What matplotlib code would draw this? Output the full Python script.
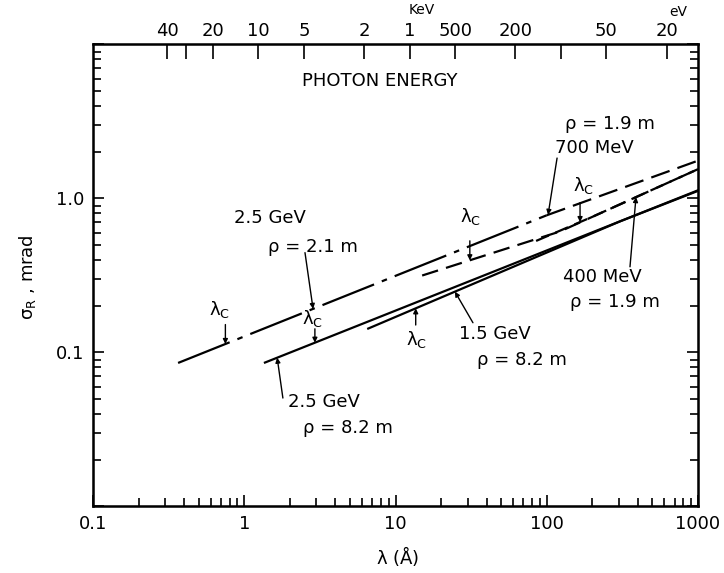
import numpy as np
import matplotlib.pyplot as plt

plt.rcParams['font.family'] = ['DejaVu Sans']
plt.rcParams['lines.scale_dashes'] = False

# curves: wavelength (A) vs. opening angle sigma_R (mrad)
lam_25gev_21m = [0.365, 100]
sig_25gev_21m = [0.0855, 0.778]
lam_25gev_21m_tail = [100, 1000]
sig_25gev_21m_tail = [0.778, 1.76]

lam_700mev = [15, 122, 1000]
sig_700mev = [0.316, 0.61, 1.55]

lam_400mev = [85, 200, 1000]
sig_400mev = [0.53, 0.76, 1.55]

lam_25gev_82m = [1.37, 1000]
sig_25gev_82m = [0.086, 1.13]

lam_15gev_82m = [6.6, 305, 1000]
sig_15gev_82m = [0.143, 0.71, 1.12]

# critical wavelengths marked on each curve
lamc_25gev_21m = 0.75
lamc_25gev_82m = 2.93
lamc_15gev_82m = 13.6
lamc_700mev = 31
lamc_400mev = 166

# photon energy scale on top (keV)
energy_kev = [40, 30, 20, 10, 5, 2, 1, 0.5, 0.2, 0.1, 0.05, 0.02]
energy_labels = ['40', '', '20', '10', '5', '2', '1', '500', '200', '', '50', '20']

x_ticks = [0.1, 1, 10, 100, 1000]
x_ticklabels = ['0.1', '1', '10', '100', '1000']
y_ticks = [0.01, 0.1, 1, 10]
y_ticklabels = ['', '0.1', '1.0', '']


def on_curve(lam, lams, sigs):
    return 10 ** np.interp(np.log10(lam), np.log10(lams), np.log10(sigs))


fig = plt.figure(figsize=(7.24, 5.73), dpi=100)
ax = fig.add_axes([0.1285, 0.1161, 0.8356, 0.8063])
ax.set_xscale('log')
ax.set_yscale('log')
ax.set_xlim(0.1, 1000)
ax.set_ylim(0.01, 10)

lw = 1.6
ax.plot(lam_25gev_21m, sig_25gev_21m, color='black', lw=lw, dashes=(40, 6, 4, 6))
ax.plot(lam_25gev_21m_tail, sig_25gev_21m_tail, color='black', lw=lw, dashes=(14, 6))
ax.plot(lam_700mev, sig_700mev, color='black', lw=lw, dashes=(12, 6))
ax.plot(lam_400mev, sig_400mev, color='black', lw=lw, dashes=(10, 5))
ax.plot(lam_25gev_82m, sig_25gev_82m, color='black', lw=lw)
ax.plot(lam_15gev_82m, sig_15gev_82m, color='black', lw=lw)

arrow = dict(arrowstyle='-|>', color='black', lw=1.0, mutation_scale=7, shrinkA=0, shrinkB=0)

# lambda_c markers
lc_text = r'$\mathregular{\lambda_C}$'
marks = [
    (lamc_25gev_21m, lam_25gev_21m, sig_25gev_21m, 14, (0.69, 0.191)),
    (lamc_25gev_82m, lam_25gev_82m, sig_25gev_82m, 10, (2.81, 0.165)),
    (lamc_15gev_82m, lam_15gev_82m, sig_15gev_82m, -12, (13.7, 0.122)),
    (lamc_700mev, lam_700mev, sig_700mev, 14, (31.1, 0.762)),
    (lamc_400mev, lam_400mev, sig_400mev, 14, (174, 1.21)),
]
for lc, lams, sigs, off, txt in marks:
    s = on_curve(lc, lams, sigs)
    ax.annotate('', xy=(lc, s), xytext=(0, off), textcoords='offset points',
                arrowprops=arrow)
    ax.text(txt[0], txt[1], lc_text, fontsize=13, ha='center', va='center')

# curve labels with leader arrows
ax.annotate('', xy=(2.85, on_curve(2.85, lam_25gev_21m, sig_25gev_21m)),
            xytext=(2.52, 0.445), arrowprops=arrow)
ax.annotate('', xy=(1.65, on_curve(1.65, lam_25gev_82m, sig_25gev_82m)),
            xytext=(1.80, 0.0506), arrowprops=arrow)
ax.annotate('', xy=(24.7, on_curve(24.7, lam_15gev_82m, sig_15gev_82m)),
            xytext=(32.5, 0.156), arrowprops=arrow)
ax.annotate('', xy=(389, on_curve(389, lam_400mev, sig_400mev)),
            xytext=(355, 0.36), arrowprops=arrow)
ax.annotate('', xy=(102, on_curve(102, lam_25gev_21m_tail, sig_25gev_21m_tail)),
            xytext=(117, 1.83), arrowprops=arrow)

fs = 13
ax.text(1.48, 0.743, '2.5 GeV', fontsize=fs, ha='center', va='center')
ax.text(2.85, 0.481, 'ρ = 2.1 m', fontsize=fs, ha='center', va='center')
ax.text(3.37, 0.0475, '2.5 GeV', fontsize=fs, ha='center', va='center')
ax.text(4.85, 0.0324, 'ρ = 8.2 m', fontsize=fs, ha='center', va='center')
ax.text(45.5, 0.131, '1.5 GeV', fontsize=fs, ha='center', va='center')
ax.text(68.5, 0.0897, 'ρ = 8.2 m', fontsize=fs, ha='center', va='center')
ax.text(232, 0.308, '400 MeV', fontsize=fs, ha='center', va='center')
ax.text(282, 0.212, 'ρ = 1.9 m', fontsize=fs, ha='center', va='center')
ax.text(205, 2.14, '700 MeV', fontsize=fs, ha='center', va='center')
ax.text(262, 3.03, 'ρ = 1.9 m', fontsize=fs, ha='center', va='center')
ax.text(7.9, 5.77, 'PHOTON ENERGY', fontsize=fs, ha='center', va='center')

# axes styling
for sp in ax.spines.values():
    sp.set_linewidth(1.8)
ax.set_xticks(x_ticks)
ax.set_xticklabels(x_ticklabels)
ax.set_yticks(y_ticks)
ax.set_yticklabels(y_ticklabels)
ax.xaxis.set_minor_locator(plt.matplotlib.ticker.LogLocator(base=10, subs=np.arange(2, 10)))
ax.yaxis.set_minor_locator(plt.matplotlib.ticker.LogLocator(base=10, subs=np.arange(2, 10)))
ax.xaxis.set_minor_formatter(plt.NullFormatter())
ax.yaxis.set_minor_formatter(plt.NullFormatter())
ax.tick_params(which='both', direction='in', top=False, right=True, width=1.2,
               labelsize=13, pad=6)
ax.tick_params(which='major', length=8)
ax.tick_params(which='minor', length=6)

# photon energy axis
ax2 = ax.twiny()
ax2.set_xscale('log')
ax2.set_xlim(ax.get_xlim())
ax2.set_xticks([12.398 / e for e in energy_kev])
ax2.set_xticklabels(energy_labels)
ax2.xaxis.set_minor_locator(plt.NullLocator())
ax2.tick_params(which='major', direction='in', length=11, width=1.2, labelsize=13, pad=3)
ax2.text(12.398 / 1 * 1.2, 1.074, 'KeV', fontsize=10, ha='center', va='center',
         transform=ax2.get_xaxis_transform())
ax2.text(738, 1.071, 'eV', fontsize=10, ha='center', va='center',
         transform=ax2.get_xaxis_transform())

fig.text(398 / 724, 1 - 556 / 573, r'$\mathregular{\lambda}$ (Å)', fontsize=13,
         ha='center', va='center')
fig.text(27 / 724, 1 - 277 / 573, r'$\mathregular{\sigma_R}$ , mrad', fontsize=13,
         ha='center', va='center', rotation=90)

fig.savefig('out.png', dpi=100)
